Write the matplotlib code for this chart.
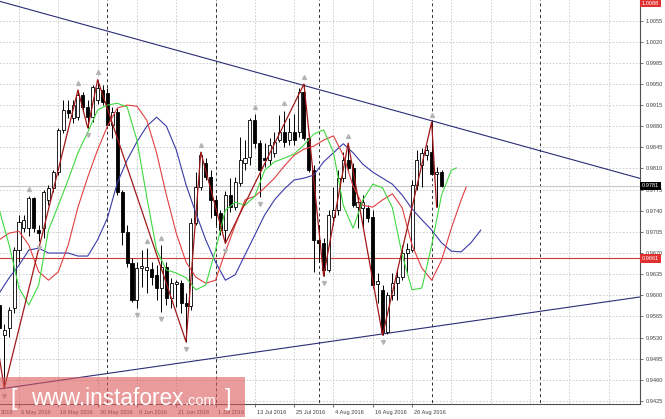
import numpy as np
import pandas as pd
import matplotlib
matplotlib.use('Agg')
import matplotlib.pyplot as plt
import matplotlib.transforms as mtransforms
from matplotlib.patches import Rectangle

plt.rcParams['font.family'] = ['Liberation Sans', 'DejaVu Sans']

# USD/CHF daily, bar numbers count trading days from 26 Apr 2016
start_day = '2016-04-26'
first_bar = 4

opens = [0.9584, 0.9535, 0.9546, 0.9579, 0.9675, 0.9711, 0.9711, 0.9761, 0.9708, 0.9711,
         0.9758, 0.9778, 0.9804, 0.9874, 0.9907, 0.9894, 0.9895, 0.9932, 0.9912, 0.9895,
         0.9923, 0.9940, 0.9935, 0.9882, 0.9904, 0.9771, 0.9705, 0.9653, 0.9592, 0.9645,
         0.9642, 0.9644, 0.9634, 0.9612, 0.9647, 0.9596, 0.9619, 0.9620, 0.9587, 0.9582,
         0.9720, 0.9779, 0.9819, 0.9796, 0.9758, 0.9736, 0.9708, 0.9766, 0.9746, 0.9786,
         0.9819, 0.9829, 0.9890, 0.9852, 0.9827, 0.9824, 0.9836, 0.9857, 0.9870, 0.9857,
         0.9870, 0.9870, 0.9937, 0.9860, 0.9807, 0.9692, 0.9687, 0.9642, 0.9730, 0.9741,
         0.9794, 0.9824, 0.9811, 0.9746, 0.9745, 0.9745, 0.9730, 0.9619, 0.9609, 0.9539,
         0.9600, 0.9620, 0.9630, 0.9670, 0.9675, 0.9783, 0.9816, 0.9832, 0.9837, 0.9801,
         0.9804]
highs = [0.9592, 0.9552, 0.9581, 0.9680, 0.9733, 0.9733, 0.9764, 0.9762, 0.9716, 0.9774,
         0.9783, 0.9807, 0.9877, 0.9923, 0.9923, 0.9923, 0.9940, 0.9937, 0.9923, 0.9948,
         0.9957, 0.9948, 0.9943, 0.9912, 0.9910, 0.9774, 0.9716, 0.9662, 0.9655, 0.9675,
         0.9678, 0.9655, 0.9650, 0.9683, 0.9655, 0.9629, 0.9625, 0.9625, 0.9604, 0.9728,
         0.9804, 0.9837, 0.9827, 0.9807, 0.9766, 0.9741, 0.9773, 0.9794, 0.9796, 0.9862,
         0.9857, 0.9893, 0.9900, 0.9857, 0.9852, 0.9860, 0.9870, 0.9899, 0.9906, 0.9894,
         0.9900, 0.9943, 0.9950, 0.9869, 0.9816, 0.9716, 0.9695, 0.9741, 0.9779, 0.9807,
         0.9837, 0.9852, 0.9819, 0.9763, 0.9766, 0.9749, 0.9741, 0.9637, 0.9617, 0.9605,
         0.9637, 0.9642, 0.9683, 0.9687, 0.9791, 0.9841, 0.9844, 0.9849, 0.9887, 0.9812,
         0.9807]
lows = [0.9538, 0.9446, 0.9531, 0.9571, 0.9655, 0.9705, 0.9698, 0.9705, 0.9690, 0.9695,
        0.9749, 0.9771, 0.9799, 0.9869, 0.9894, 0.9885, 0.9890, 0.9907, 0.9877, 0.9887,
        0.9917, 0.9915, 0.9877, 0.9860, 0.9766, 0.9683, 0.9647, 0.9589, 0.9579, 0.9614,
        0.9604, 0.9617, 0.9592, 0.9572, 0.9584, 0.9579, 0.9581, 0.9571, 0.9523, 0.9576,
        0.9716, 0.9774, 0.9791, 0.9728, 0.9716, 0.9700, 0.9686, 0.9738, 0.9741, 0.9781,
        0.9807, 0.9816, 0.9844, 0.9763, 0.9812, 0.9816, 0.9829, 0.9854, 0.9846, 0.9849,
        0.9849, 0.9862, 0.9857, 0.9804, 0.9639, 0.9655, 0.9632, 0.9639, 0.9716, 0.9733,
        0.9788, 0.9804, 0.9746, 0.9711, 0.9711, 0.9721, 0.9612, 0.9587, 0.9534, 0.9536,
        0.9592, 0.9592, 0.9625, 0.9637, 0.9672, 0.9774, 0.9779, 0.9824, 0.9799, 0.9746,
        0.9779]
closes = [0.9546, 0.9543, 0.9576, 0.9675, 0.9721, 0.9725, 0.9761, 0.9711, 0.9703, 0.9771,
          0.9778, 0.9804, 0.9874, 0.9907, 0.9902, 0.9915, 0.9932, 0.9912, 0.9895, 0.9945,
          0.9943, 0.9920, 0.9882, 0.9904, 0.9771, 0.9705, 0.9653, 0.9592, 0.9645, 0.9648,
          0.9647, 0.9630, 0.9612, 0.9647, 0.9596, 0.9620, 0.9622, 0.9587, 0.9582, 0.9720,
          0.9779, 0.9832, 0.9796, 0.9758, 0.9733, 0.9708, 0.9766, 0.9746, 0.9788, 0.9824,
          0.9827, 0.9890, 0.9852, 0.9807, 0.9824, 0.9849, 0.9854, 0.9870, 0.9854, 0.9870,
          0.9857, 0.9937, 0.9860, 0.9807, 0.9692, 0.9687, 0.9642, 0.9733, 0.9741, 0.9794,
          0.9824, 0.9811, 0.9749, 0.9754, 0.9754, 0.9728, 0.9617, 0.9624, 0.9539, 0.9600,
          0.9620, 0.9630, 0.9670, 0.9677, 0.9783, 0.9824, 0.9836, 0.9841, 0.9801, 0.9804,
          0.9781]

# alligator lines (read every second bar, shifted ones run past the last bar)
lips_bars = list(range(4, 97, 2)) + [97]
lips = [0.9741, 0.9683, 0.9612, 0.9584, 0.9617, 0.9708, 0.9749, 0.9791, 0.9836, 0.9870,
        0.9907, 0.9915, 0.9918, 0.9912, 0.9857, 0.9763, 0.9675, 0.9642, 0.9637, 0.9629,
        0.9609, 0.9617, 0.9675, 0.9741, 0.9754, 0.9749, 0.9764, 0.9807, 0.9821, 0.9827,
        0.9834, 0.9849, 0.9867, 0.9874, 0.9837, 0.9749, 0.9711, 0.9758, 0.9784, 0.9778,
        0.9745, 0.9667, 0.9609, 0.9612, 0.9683, 0.9766, 0.9807, 0.9811]
teeth_bars = list(range(4, 99, 2)) + [99]
teeth = [0.9692, 0.9703, 0.9706, 0.9683, 0.9639, 0.9625, 0.9639, 0.9683, 0.9746, 0.9796,
         0.9841, 0.9880, 0.9910, 0.9915, 0.9913, 0.9890, 0.9836, 0.9766, 0.9703, 0.9655,
         0.9630, 0.9620, 0.9625, 0.9672, 0.9716, 0.9758, 0.9764, 0.9778, 0.9794, 0.9814,
         0.9832, 0.9842, 0.9847, 0.9857, 0.9864, 0.9832, 0.9781, 0.9749, 0.9746, 0.9758,
         0.9768, 0.9745, 0.9683, 0.9645, 0.9625, 0.9658, 0.9711, 0.9758, 0.9779]
jaw_bars = list(range(4, 103, 2))
jaw = [0.9604, 0.9629, 0.9650, 0.9675, 0.9678, 0.9670, 0.9670, 0.9670, 0.9665, 0.9665,
       0.9692, 0.9728, 0.9786, 0.9824, 0.9854, 0.9880, 0.9895, 0.9880, 0.9841, 0.9783,
       0.9736, 0.9692, 0.9655, 0.9625, 0.9634, 0.9667, 0.9700, 0.9733, 0.9758, 0.9776,
       0.9791, 0.9794, 0.9799, 0.9821, 0.9836, 0.9851, 0.9836, 0.9817, 0.9804, 0.9794,
       0.9784, 0.9766, 0.9743, 0.9725, 0.9708, 0.9687, 0.9673, 0.9672, 0.9687, 0.9708]

zigzag_bars = [0, 5, 20, 22, 24, 42, 45, 50, 66, 70, 75, 82, 92, 93]
zigzag = [0.9700, 0.9446, 0.9940, 0.9877, 0.9957, 0.9523, 0.9837, 0.9686,
          0.9950, 0.9632, 0.9852, 0.9534, 0.9887, 0.9746]

up_fractals = [10, 20, 24, 34, 37, 45, 56, 62, 66, 75, 92]
down_fractals = [5, 12, 22, 32, 37, 42, 50, 57, 70, 82]

upper_trend = [(4, 1.0087), (92, 0.9889)]
lower_trend = [(5, 0.9446), (82, 0.9536)]
level_line = 0.9661
top_price = 1.0088

price_ticks = np.arange(0.9425, 1.0056, 0.0035)

# ---------------------------------------------------------------
days = pd.bdate_range(start_day, periods=140)
n = len(opens)
bars = np.arange(first_bar, first_bar + n)
o, h, l, c = map(np.array, (opens, highs, lows, closes))

fig = plt.figure(figsize=(6.65, 4.19), dpi=100)
ax = fig.add_axes([0, 15 / 419, 640 / 665, 404 / 419])

# grid and month separators
grid_bars = np.arange(0, 135, 8)
ax.vlines(grid_bars, 0.9, 1.1, color='#c8c8c8', lw=0.6, linestyles=(0, (2, 2)), zorder=0.5)
ax.hlines(price_ticks, 0, 140, color='#c8c8c8', lw=0.6, linestyles=(0, (2, 2)), zorder=0.5)
month_start = [i for i in range(1, len(days)) if days[i].month != days[i - 1].month]
ax.vlines(month_start, 0.9, 1.1, color='#303030', lw=0.7, linestyles=(0, (3, 3)), zorder=0.6)

# horizontal lines
ax.axhline(closes[-1], color='#c8c8c8', lw=0.8, zorder=1)
ax.axhline(level_line, color='#c83c3c', lw=0.8, zorder=1)

# trend lines
ax.axline(upper_trend[0], upper_trend[1], color='#2c2c78', lw=0.8, zorder=2)
ax.axline(lower_trend[0], lower_trend[1], color='#2c2c78', lw=0.8, zorder=2)

# candles
ax.vlines(bars, l, h, color='black', lw=0.7, zorder=3)
up = c >= o
body = np.where(np.abs(c - o) < 0.00008, 0.00008, c - o)
ax.bar(bars[up], body[up], bottom=o[up], width=0.62, facecolor='white',
       edgecolor='black', linewidth=0.6, zorder=3.2)
ax.bar(bars[~up], body[~up], bottom=o[~up], width=0.62, facecolor='black',
       edgecolor='black', linewidth=0.6, zorder=3.2)

# alligator
ax.plot(jaw_bars, jaw, color='#3a3aa8', lw=0.8, zorder=4)
ax.plot(teeth_bars, teeth, color='#e04040', lw=0.8, zorder=4)
ax.plot(lips_bars, lips, color='#40d840', lw=0.8, zorder=4)

# zigzag
ax.plot(zigzag_bars, zigzag, color='#a01818', lw=0.9, zorder=4.5)

# fractals
up_idx = np.array(up_fractals) - first_bar
dn_idx = np.array(down_fractals) - first_bar
ax.plot(up_fractals, h[up_idx] + 0.0012, ls='none', marker='^', ms=2.8,
        color='#b4b4b4', zorder=5)
ax.plot(down_fractals, l[dn_idx] - 0.0012, ls='none', marker='v', ms=2.8,
        color='#b4b4b4', zorder=5)

# axes styling
for side in ['left', 'top']:
    ax.spines[side].set_visible(False)
for side in ['right', 'bottom']:
    ax.spines[side].set_color('#505050')
    ax.spines[side].set_linewidth(0.8)

ax.yaxis.tick_right()
ax.set_yticks(price_ticks)
ax.set_yticklabels([f'{v:.4f}' for v in price_ticks])
ax.tick_params(axis='y', length=2, width=0.5, pad=2, labelsize=4.1,
               colors='#404040')

def day_label(i):
    return f'{days[i].day} {days[i].strftime("%b %Y")}'

label_bars = list(range(8, 89, 8))
ax.set_xticks(label_bars)
ax.set_xticklabels([day_label(i) for i in label_bars])
ax.tick_params(axis='x', length=2.5, width=0.5, pad=1.5, labelsize=4.1,
               colors='#404040')
shift = mtransforms.ScaledTranslation(2 / 100, 0, fig.dpi_scale_trans)
for lab in ax.get_xticklabels():
    lab.set_ha('left')
    lab.set_transform(lab.get_transform() + shift)

# only the year of the first date label (bar 0, left of the view) shows
first_tr = ax.transAxes + mtransforms.ScaledTranslation(0.5 / 100, -4 / 72, fig.dpi_scale_trans)
ax.text(0, 0, days[0].strftime('%Y'), transform=first_tr, fontsize=4.1, color='#404040',
        ha='left', va='top', clip_on=False)

# limits last: set_xticks widens the view otherwise
ax.set_xlim(4.13, 134.4)
ax.set_ylim(0.9420, 1.0089)

# price boxes on the scale
ytr = ax.get_yaxis_transform()
ax.text(1.003, closes[-1], f'{closes[-1]:.4f}', transform=ytr, fontsize=4.1,
        color='white', va='center', ha='left', clip_on=False, zorder=10,
        bbox=dict(boxstyle='square,pad=0.3', fc='black', ec='none'))
ax.text(1.003, level_line, f'{level_line:.4f}', transform=ytr, fontsize=4.1,
        color='white', va='center', ha='left', clip_on=False, zorder=10,
        bbox=dict(boxstyle='square,pad=0.3', fc='#e03030', ec='none'))
ax.text(1.003, 0.9985, f'{top_price:.4f}', transform=ax.transAxes, fontsize=4.1,
        color='white', va='top', ha='left', clip_on=False, zorder=10,
        bbox=dict(boxstyle='square,pad=0.3', fc='#e03030', ec='none'))

# watermark
fig.patches.append(Rectangle((0, 2 / 419), 245 / 665, 40 / 419, transform=fig.transFigure,
                             facecolor='#dc5a5a', alpha=0.6, edgecolor='none', zorder=20))
fig.text(10 / 665, 14 / 419, '[', fontsize=17, color='white', zorder=21)
fig.text(31 / 665, 14 / 419, 'www.instaforex', fontsize=16.3, color='white', zorder=21)
fig.text(185 / 665, 14 / 419, '.com', fontsize=10.5, color='white', zorder=21)
fig.text(225 / 665, 14 / 419, ']', fontsize=17, color='white', zorder=21)

fig.savefig('out.png', dpi=100)
